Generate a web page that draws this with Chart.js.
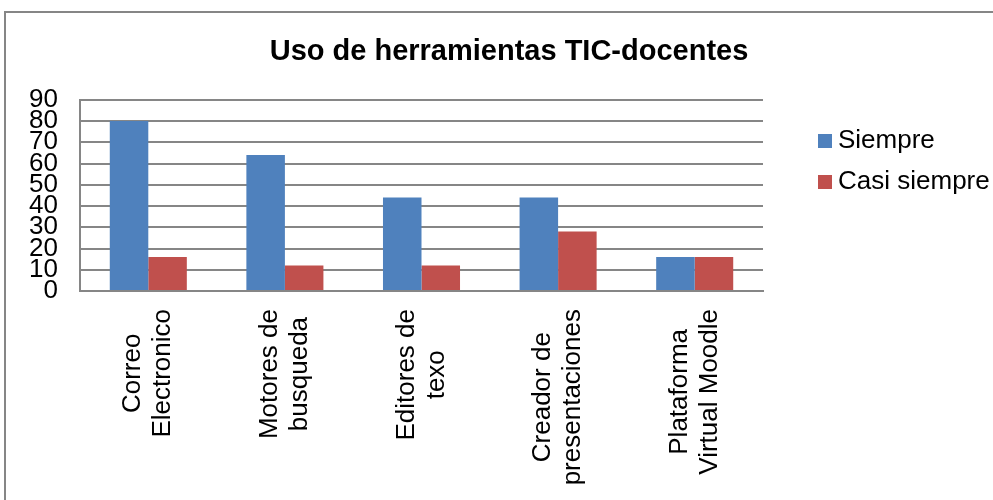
<!DOCTYPE html>
<html>
<head>
<meta charset="utf-8">
<title>Uso de herramientas TIC-docentes</title>
<script src="https://cdn.jsdelivr.net/npm/chart.js@4"></script>
<style>
  html, body { margin: 0; padding: 0; background: #fff; }
  #wrap { width: 993px; height: 500px; position: relative; }
</style>
</head>
<body>
<div id="wrap"><canvas id="usoChart" width="993" height="500"></canvas></div>
<script>
// --- Data ---
const categories = [
  ["Correo", "Electronico"],
  ["Motores de", "busqueda"],
  ["Editores de", "texo"],
  ["Creador de", "presentaciones"],
  ["Plataforma", "Virtual Moodle"]
];
const seriesNames = ["Siempre", "Casi siempre"];
const siempre = [80, 64, 44, 44, 16];
const casiSiempre = [16, 12, 12, 28, 16];
const yMax = 90;
const yStep = 10;

const FONT = "'Liberation Sans', Arial, sans-serif";
const GRID = "#868686";

// --- Plugins ---
// outer frame of the chart object
const framePlugin = {
  id: "frame",
  beforeDraw(chart) {
    const { ctx } = chart;
    ctx.save();
    ctx.strokeStyle = GRID;
    ctx.lineWidth = 2;
    ctx.strokeRect(5, 12, 1100, 700);
    ctx.restore();
  }
};

// rotated category labels, lines centred on each other
const labelPlugin = {
  id: "rotatedLabels",
  afterDraw(chart) {
    const { ctx } = chart;
    const x = chart.scales.x;
    ctx.save();
    ctx.font = "26px " + FONT;
    ctx.fillStyle = "#000";
    ctx.textAlign = "center";
    ctx.textBaseline = "middle";
    categories.forEach((lines, i) => {
      const px = x.getPixelForValue(i);
      const w = Math.max(...lines.map(l => ctx.measureText(l).width));
      ctx.save();
      ctx.translate(px, x.top + 18 + w / 2);
      ctx.rotate(-Math.PI / 2);
      lines.forEach((line, j) => {
        ctx.fillText(line, 0, (j - (lines.length - 1) / 2) * 30);
      });
      ctx.restore();
    });
    ctx.restore();
  }
};

// legend at the right, drawn from the datasets
const legendPlugin = {
  id: "sideLegend",
  afterDraw(chart) {
    const { ctx } = chart;
    const left = chart.chartArea.right + 55;
    ctx.save();
    ctx.font = "26px " + FONT;
    ctx.textBaseline = "middle";
    chart.data.datasets.forEach((ds, i) => {
      const cy = 141 + i * 41;
      ctx.fillStyle = ds.backgroundColor;
      ctx.fillRect(left, cy - 7, 14, 14);
      ctx.fillStyle = "#000";
      ctx.fillText(ds.label, left + 20, cy);
    });
    ctx.restore();
  }
};

// --- Chart ---
const ctx = document.getElementById("usoChart").getContext("2d");
new Chart(ctx, {
  type: "bar",
  data: {
    labels: categories,
    datasets: [
      { label: seriesNames[0], data: siempre, backgroundColor: "#4F81BD" },
      { label: seriesNames[1], data: casiSiempre, backgroundColor: "#C0504D" }
    ]
  },
  options: {
    responsive: false,
    animation: false,
    layout: { padding: { left: 25, right: 0, top: 0, bottom: 0 } },
    datasets: {
      bar: { categoryPercentage: 0.564, barPercentage: 1.0 }
    },
    plugins: {
      legend: { display: false },
      tooltip: { enabled: false },
      title: {
        display: true,
        text: "Uso de herramientas TIC-docentes",
        color: "#000",
        font: { family: FONT, size: 29, weight: "bold" },
        padding: { top: 35, bottom: 30 }
      }
    },
    scales: {
      x: {
        grid: { display: false },
        border: { display: true, color: GRID, width: 2 },
        ticks: { display: false },
        afterFit: (scale) => { scale.height = 209; }
      },
      y: {
        min: 0,
        max: yMax,
        grid: { color: GRID, lineWidth: 2, drawTicks: false },
        border: { display: true, color: GRID, width: 2 },
        ticks: {
          stepSize: yStep,
          autoSkip: false,
          padding: 22,
          color: "#000",
          font: { family: FONT, size: 26, lineHeight: 1 }
        },
        afterFit: (scale) => { scale.width = 55; }
      },
      spacer: {
        type: "linear",
        position: "right",
        grid: { display: false },
        border: { display: false },
        ticks: { display: false },
        afterFit: (scale) => { scale.width = 230; }
      }
    }
  },
  plugins: [framePlugin, labelPlugin, legendPlugin]
});
</script>
</body>
</html>
